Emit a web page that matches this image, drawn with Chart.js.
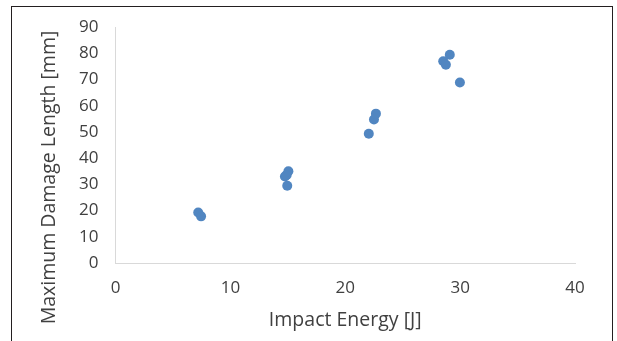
<!DOCTYPE html>
<html>
<head>
<meta charset="utf-8">
<script src="https://cdn.jsdelivr.net/npm/chart.js@4/dist/chart.umd.min.js"></script>
<style>
  html, body { margin: 0; padding: 0; background: #fff; }
  #wrap { position: relative; width: 617px; height: 341px; overflow: hidden; background: #fff; }
  #frame { position: absolute; left: 11px; top: 6px; width: 602px; height: 400px; border: 1px solid #231f20; box-sizing: border-box; }
  #c { position: absolute; left: 0; top: 0; }
</style>
</head>
<body>
<div id="wrap">
  <div id="frame"></div>
  <canvas id="c" width="617" height="341"></canvas>
</div>
<script>
const impactEnergy = [7.2, 7.45, 14.75, 14.9, 15.05, 14.95, 22.05, 22.5, 22.67, 28.53, 28.76, 29.1, 29.98];
const damageLength = [19.3, 17.8, 33.0, 33.6, 35.0, 29.5, 49.3, 54.8, 57.0, 77.0, 75.7, 79.5, 68.9];
const xTitle = 'Impact Energy [J]';
const yTitle = 'Maximum Damage Length [mm]';
const xRange = [0, 40, 10];
const yRange = [0, 90, 10];

const points = impactEnergy.map((x, i) => ({ x: x, y: damageLength[i] }));
const textColor = '#404040';
const fontFamily = '"Open Sans", "Noto Sans", sans-serif';

const yTitlePlugin = {
  id: 'yTitlePlugin',
  afterDraw(chart) {
    const ctx = chart.ctx;
    ctx.save();
    ctx.translate(49, 177.5);
    ctx.rotate(-Math.PI / 2);
    ctx.font = '19.5px ' + fontFamily;
    ctx.fillStyle = textColor;
    ctx.textAlign = 'center';
    ctx.textBaseline = 'middle';
    ctx.fillText(yTitle, 0, 0);
    ctx.restore();
  }
};

new Chart(document.getElementById('c'), {
  type: 'scatter',
  data: {
    datasets: [{
      data: points,
      backgroundColor: 'rgb(81,134,193)',
      borderWidth: 0,
      pointRadius: 5,
      pointHoverRadius: 5
    }]
  },
  options: {
    responsive: false,
    animation: false,
    devicePixelRatio: 1,
    layout: { padding: { left: 0, top: 26.5, right: 42, bottom: 0 } },
    plugins: { legend: { display: false }, tooltip: { enabled: false } },
    scales: {
      x: {
        type: 'linear',
        min: xRange[0], max: xRange[1],
        afterFit(s) { s.height = 78; },
        grid: { display: false, drawTicks: false },
        border: { display: true, color: '#d9d9d9', width: 1 },
        ticks: { stepSize: xRange[2], color: textColor, font: { family: fontFamily, size: 17 }, padding: 15, maxRotation: 0 },
        title: { display: true, text: xTitle, color: textColor, font: { family: fontFamily, size: 19.5 }, padding: { top: 4, bottom: 9 } }
      },
      y: {
        type: 'linear',
        min: yRange[0], max: yRange[1],
        afterFit(s) { s.width = 115.5; },
        grid: { display: false, drawTicks: false },
        border: { display: true, color: '#d9d9d9', width: 1 },
        ticks: { stepSize: yRange[2], color: textColor, font: { family: fontFamily, size: 17 }, padding: 17 },
        title: { display: false }
      }
    }
  },
  plugins: [yTitlePlugin]
});
</script>
</body>
</html>
